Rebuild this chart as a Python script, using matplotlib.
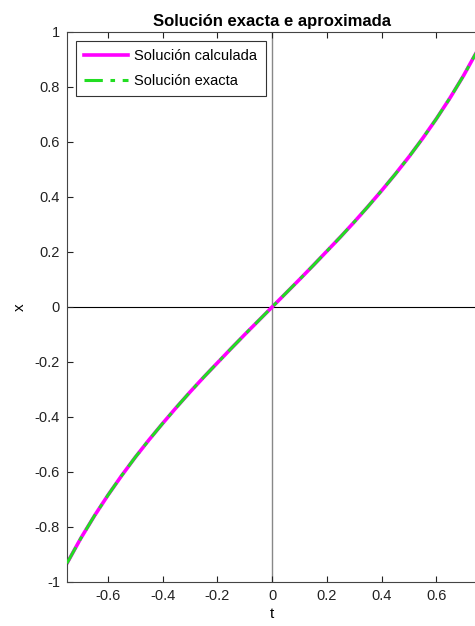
import numpy as np
import matplotlib
matplotlib.use('Agg')
import matplotlib.pyplot as plt

plt.rcParams['font.family'] = ['Liberation Sans', 'DejaVu Sans']

# values
t = [-0.75, -0.70, -0.65, -0.60, -0.55, -0.50, -0.45, -0.40, -0.35, -0.30, -0.25,
     -0.20, -0.15, -0.10, -0.05, 0.00, 0.05, 0.10, 0.15, 0.20, 0.25, 0.30,
     0.35, 0.40, 0.45, 0.50, 0.55, 0.60, 0.65, 0.70, 0.75]
x_calc = [-0.932, -0.842, -0.760, -0.684, -0.613, -0.546, -0.483, -0.423, -0.365, -0.309, -0.255,
          -0.203, -0.151, -0.100, -0.050, 0.000, 0.050, 0.100, 0.151, 0.203, 0.255, 0.309,
          0.365, 0.423, 0.483, 0.546, 0.613, 0.684, 0.760, 0.842, 0.932]
x_exact = list(x_calc)

xticks = [-0.6, -0.4, -0.2, 0, 0.2, 0.4, 0.6]
yticks = [-1, -0.8, -0.6, -0.4, -0.2, 0, 0.2, 0.4, 0.6, 0.8, 1]

fig = plt.figure(figsize=(4.75, 6.26), dpi=100)
ax = fig.add_axes([0.141, 0.0703, 0.864, 0.8787])

ax.axvline(0, color='#888888', lw=1, zorder=1)
ax.axhline(0, color='black', lw=0.8, zorder=1)

ax.plot(t, x_calc, color='#ff00ff', lw=2.6, label='Solución calculada', zorder=2)
ax.plot(t, x_exact, color='#22dd22', lw=2.2, ls='-.', dashes=(6, 2.5, 1.5, 2.5),
        label='Solución exacta', zorder=3)

ax.set_xlim(-0.75, 0.75)
ax.set_ylim(-1, 1)
ax.set_xticks(xticks)
ax.set_xticklabels(['-0.6', '-0.4', '-0.2', '0', '0.2', '0.4', '0.6'])
ax.set_yticks(yticks)
ax.set_yticklabels(['-1', '-0.8', '-0.6', '-0.4', '-0.2', '0', '0.2', '0.4', '0.6', '0.8', '1'])
ax.tick_params(direction='in', top=True, right=False, labelsize=10.5, length=4,
               colors='#222222', pad=5)
for s in ['left', 'bottom', 'top']:
    ax.spines[s].set_color('#444444')
    ax.spines[s].set_linewidth(0.8)
ax.spines['right'].set_visible(False)

ax.set_xlabel('t', fontsize=11, labelpad=3)
ax.set_ylabel('x', fontsize=11, labelpad=6)
ax.set_title('Solución exacta e aproximada', fontsize=12, fontweight='bold', pad=4)

leg = ax.legend(loc='upper left', fontsize=10.5, fancybox=False, framealpha=1,
                edgecolor='#333333', handlelength=3.0, handletextpad=0.4,
                borderaxespad=0.6, borderpad=0.6, labelspacing=0.7)
leg.get_frame().set_linewidth(0.8)

fig.savefig('out.png', dpi=100)
